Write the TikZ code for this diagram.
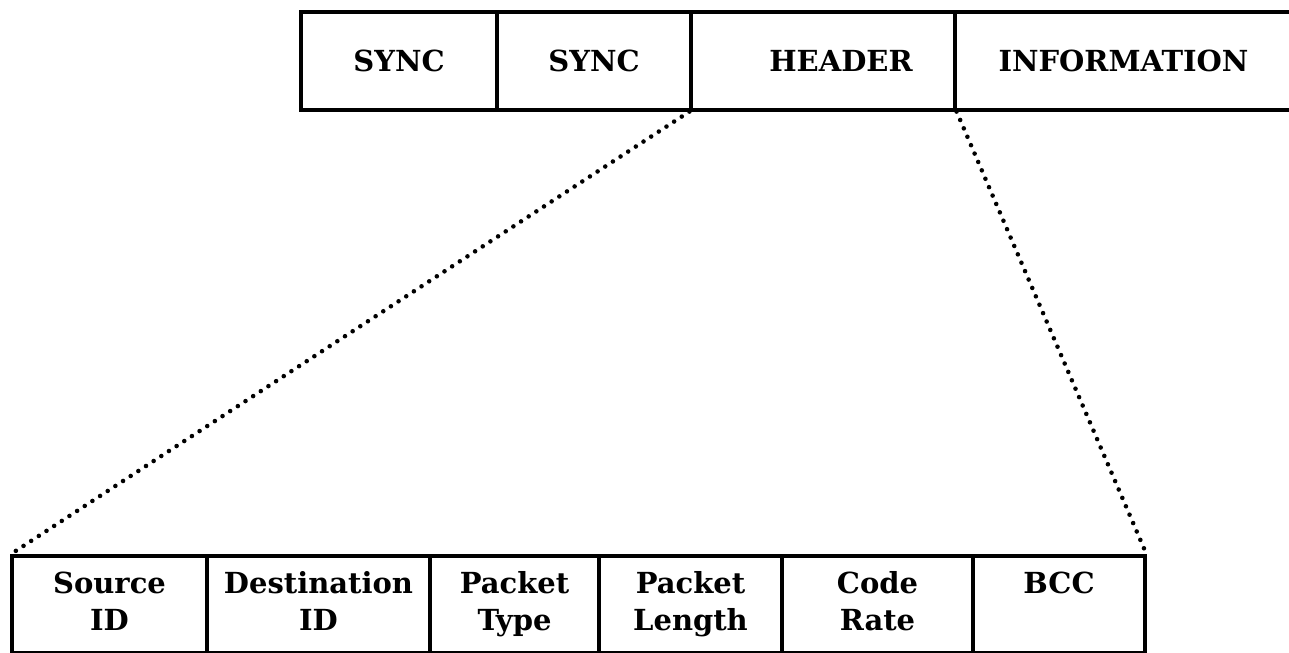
\documentclass[tikz,border=0pt]{standalone}
\usepackage{fontspec}
\usepackage{tikz}
\newfontfamily\fieldfont{DejaVu Serif}

\tikzset{
    field/.style={draw, line width=1.8pt, rectangle, inner sep=0pt,
        align=center, font=\fieldfont\fontsize{16.5}{21}\selectfont\bfseries},
    toprow/.style={field, minimum height=1.96cm},
    botrow/.style={field, minimum height=1.94cm},
    zoomline/.style={line width=2.6pt, line cap=round, dash pattern=on 0pt off 5.2pt}
}

\begin{document}
\begin{tikzpicture}
    \clip (0,0) rectangle (25.78,13.04);

    % frame
    \node[toprow, minimum width=3.92cm] (sync1) at (7.98,11.82) {SYNC};
    \node[toprow, minimum width=3.88cm] (sync2) at (11.88,11.82) {SYNC};
    \node[toprow, minimum width=5.28cm] (header) at (16.46,11.82) {\hspace*{0.72cm}HEADER};
    \node[toprow, minimum width=6.90cm] (info) at (22.55,11.82) {\hspace*{-0.16cm}INFORMATION};

    % header fields
    \node[botrow, minimum width=3.90cm] (srcid) at (2.19,0.95) {\strut Source\\\strut ID};
    \node[botrow, minimum width=4.46cm] (dstid) at (6.37,0.95) {\strut Destination\\\strut ID};
    \node[botrow, minimum width=3.38cm] (ptype) at (10.29,0.95) {\strut Packet\\\strut Type};
    \node[botrow, minimum width=3.66cm] (plen) at (13.81,0.95) {\strut Packet\\\strut Length};
    \node[botrow, minimum width=3.82cm] (crate) at (17.55,0.95) {\strut Code\\\strut Rate};
    \node[botrow, minimum width=3.44cm] (bcc) at (21.18,0.95) {\strut BCC\\\strut};

    % expansion of the header
    \draw[zoomline] (header.south west) -- (srcid.north west);
    \draw[zoomline] (header.south east) -- (bcc.north east);
\end{tikzpicture}
\end{document}
